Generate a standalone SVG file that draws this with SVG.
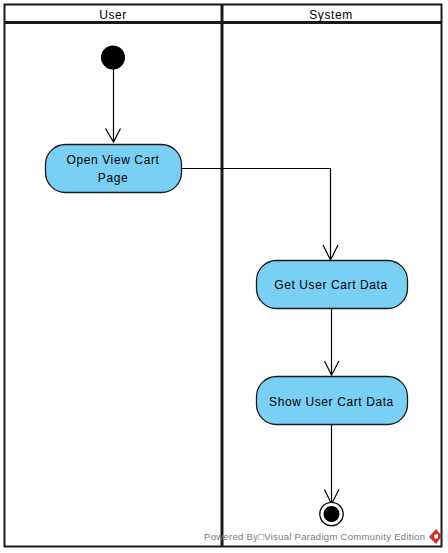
<svg xmlns="http://www.w3.org/2000/svg" width="448" height="553" viewBox="0 0 448 553">
<style>
text{font-family:"Liberation Sans",Arial,sans-serif;font-size:12px;fill:#000;text-anchor:middle;letter-spacing:.6px}
.lane{fill:none;stroke:#1a1a1a}
.act{fill:#7acff5;stroke:#1a1a1a;stroke-width:1.3}
.c{fill:none;stroke:#000;stroke-width:1.2}
.h{fill:none;stroke:#000;stroke-width:1.2}
</style>
<rect width="448" height="553" fill="#fff"/>
<g id="swimlanes">
<rect class="lane" x="4.500" y="4.500" width="437" height="542" stroke-width="2"/>
<line class="lane" x1="4" y1="22.500" x2="442" y2="22.500" stroke-width="3"/>
<line class="lane" x1="222" y1="4" x2="222" y2="547" stroke-width="3"/>
<text id="lane-user" x="113" y="19">User</text>
<text id="lane-system" x="331" y="19">System</text>
</g>
<g id="connectors">
<path class="c" d="M113.500 69V142"/><path class="h" d="M105.500 128.500L113.500 142L120.500 128.500"/>
<path class="c" d="M182 168.500H330.500V260"/><path class="h" d="M323 245L330.500 260L338 245"/>
<path class="c" d="M331.500 308.500V375"/><path class="h" d="M324.500 361L331.500 375L339 361"/>
<path class="c" d="M331.500 424.500V504"/><path class="h" d="M324.500 489.500L331.500 504L339 489.500"/>
</g>
<g id="start"><circle cx="113" cy="57.500" r="12" fill="#000"/></g>
<g id="open-view-cart">
<rect class="act" x="45.500" y="144.500" width="136" height="48" rx="20" ry="20"/>
<text x="113" y="164">Open View Cart</text><text x="113" y="182">Page</text>
</g>
<g id="get-user-cart">
<rect class="act" x="256.500" y="260.500" width="151" height="48" rx="20" ry="20"/>
<text x="331" y="288.500">Get User Cart Data</text>
</g>
<g id="show-user-cart">
<rect class="act" x="256.500" y="376.500" width="151" height="48" rx="20" ry="20"/>
<text x="331.500" y="405.500">Show User Cart Data</text>
</g>
<g id="end">
<circle cx="331.500" cy="514" r="11.700" fill="#fff" stroke="#000" stroke-width="1.300"/>
<circle cx="331.500" cy="514" r="8" fill="#000"/>
</g>
<g id="watermark">
<text x="204" y="540" textLength="221" lengthAdjust="spacing" style="font-size:9.500px;fill:#7a7a7a;text-anchor:start;letter-spacing:0">Powered By□Visual Paradigm Community Edition</text>
<path d="M436 529L442 536L436 544L429 537Z" fill="#c8352e"/>
<path d="M434 535L438 534L438 538L435 539Z" fill="#fff"/>
</g>
</svg>
